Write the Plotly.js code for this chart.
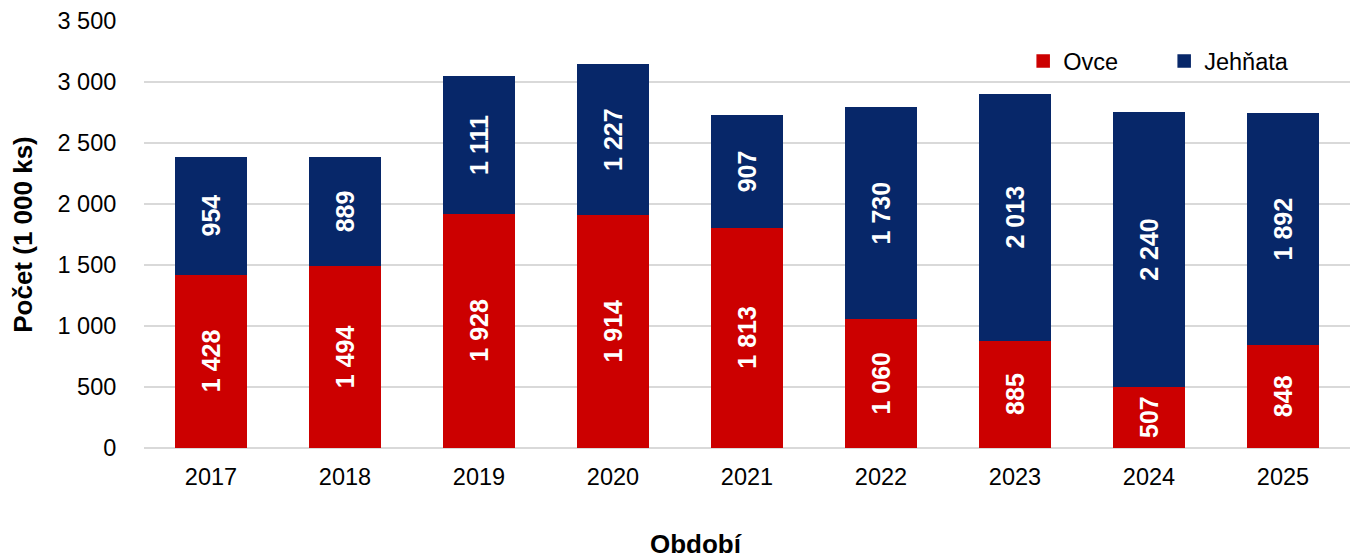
<!DOCTYPE html>
<html><head><meta charset="utf-8">
<script src="https://cdn.plot.ly/plotly-3.0.1.min.js"></script>
<style>html,body{margin:0;padding:0;background:#fff}#chart{width:1352px;height:560px}</style>
</head><body><div id="chart"></div>
<script>
const years = ['2017','2018','2019','2020','2021','2022','2023','2024','2025'];
const ovce = [1428,1494,1928,1914,1813,1060,885,507,848];
const jehnata = [954,889,1111,1227,907,1730,2013,2240,1892];
const xTitle = 'Období';
const yTitle = 'Počet (1 000 ks)';

const fontFam = 'Liberation Sans, Arial, sans-serif';
function fmt(v){return String(v).replace(/\B(?=(\d{3})+(?!\d))/g,' ');}
const common = {
  type:'bar', x: years, width:0.53,
  textposition:'inside', insidetextanchor:'middle', textangle:-90,
  textfont:{family:fontFam, size:25, color:'#ffffff', weight:'bold'},
  constraintext:'none', hoverinfo:'x+y'
};
const data = [
  Object.assign({}, common, {name:'Ovce', y: ovce, text: ovce.map(fmt), marker:{color:'#CC0000', line:{color:'#CC0000', width:1.5}}}),
  Object.assign({}, common, {name:'Jehňata', y: jehnata, text: jehnata.map(fmt), marker:{color:'#072769', line:{color:'#072769', width:1.5}}})
];
const layout = {
  barmode:'stack',
  width:1352, height:560,
  margin:{l:144, r:2, t:21, b:112},
  paper_bgcolor:'#fff', plot_bgcolor:'#fff',
  separators:', ',
  font:{family:fontFam, size:23.5, color:'#000'},
  xaxis:{
    type:'category', tickfont:{size:23.5}, ticks:'outside', ticklen:8, tickcolor:'rgba(0,0,0,0)',
    showline:false, showgrid:false, automargin:false
  },
  yaxis:{
    range:[0,3500], dtick:500, tickformat:',d', tickfont:{size:23.5},
    ticks:'outside', ticklen:22, tickcolor:'rgba(0,0,0,0)', automargin:false,
    showgrid:true, gridcolor:'#d9d9d9', gridwidth:2, zeroline:true, zerolinecolor:'#d9d9d9', zerolinewidth:2,
    title:{text:'<b>'+yTitle+'</b>', font:{size:26}, standoff:17}
  },
  annotations:[{
    text:'<b>'+xTitle+'</b>', xref:'paper', yref:'paper', x:0.4575, y:-0.2248,
    xanchor:'center', yanchor:'middle', showarrow:false, font:{size:26, color:'#000'}
  }],
  legend:{orientation:'h', x:0.729, y:0.906, xanchor:'left', yanchor:'middle',
    font:{size:23.5}, entrywidth:96, itemwidth:30, bgcolor:'rgba(0,0,0,0)', traceorder:'normal'},
  showlegend:true
};
Plotly.newPlot('chart', data, layout, {displayModeBar:false, staticPlot:true});
</script></body></html>
